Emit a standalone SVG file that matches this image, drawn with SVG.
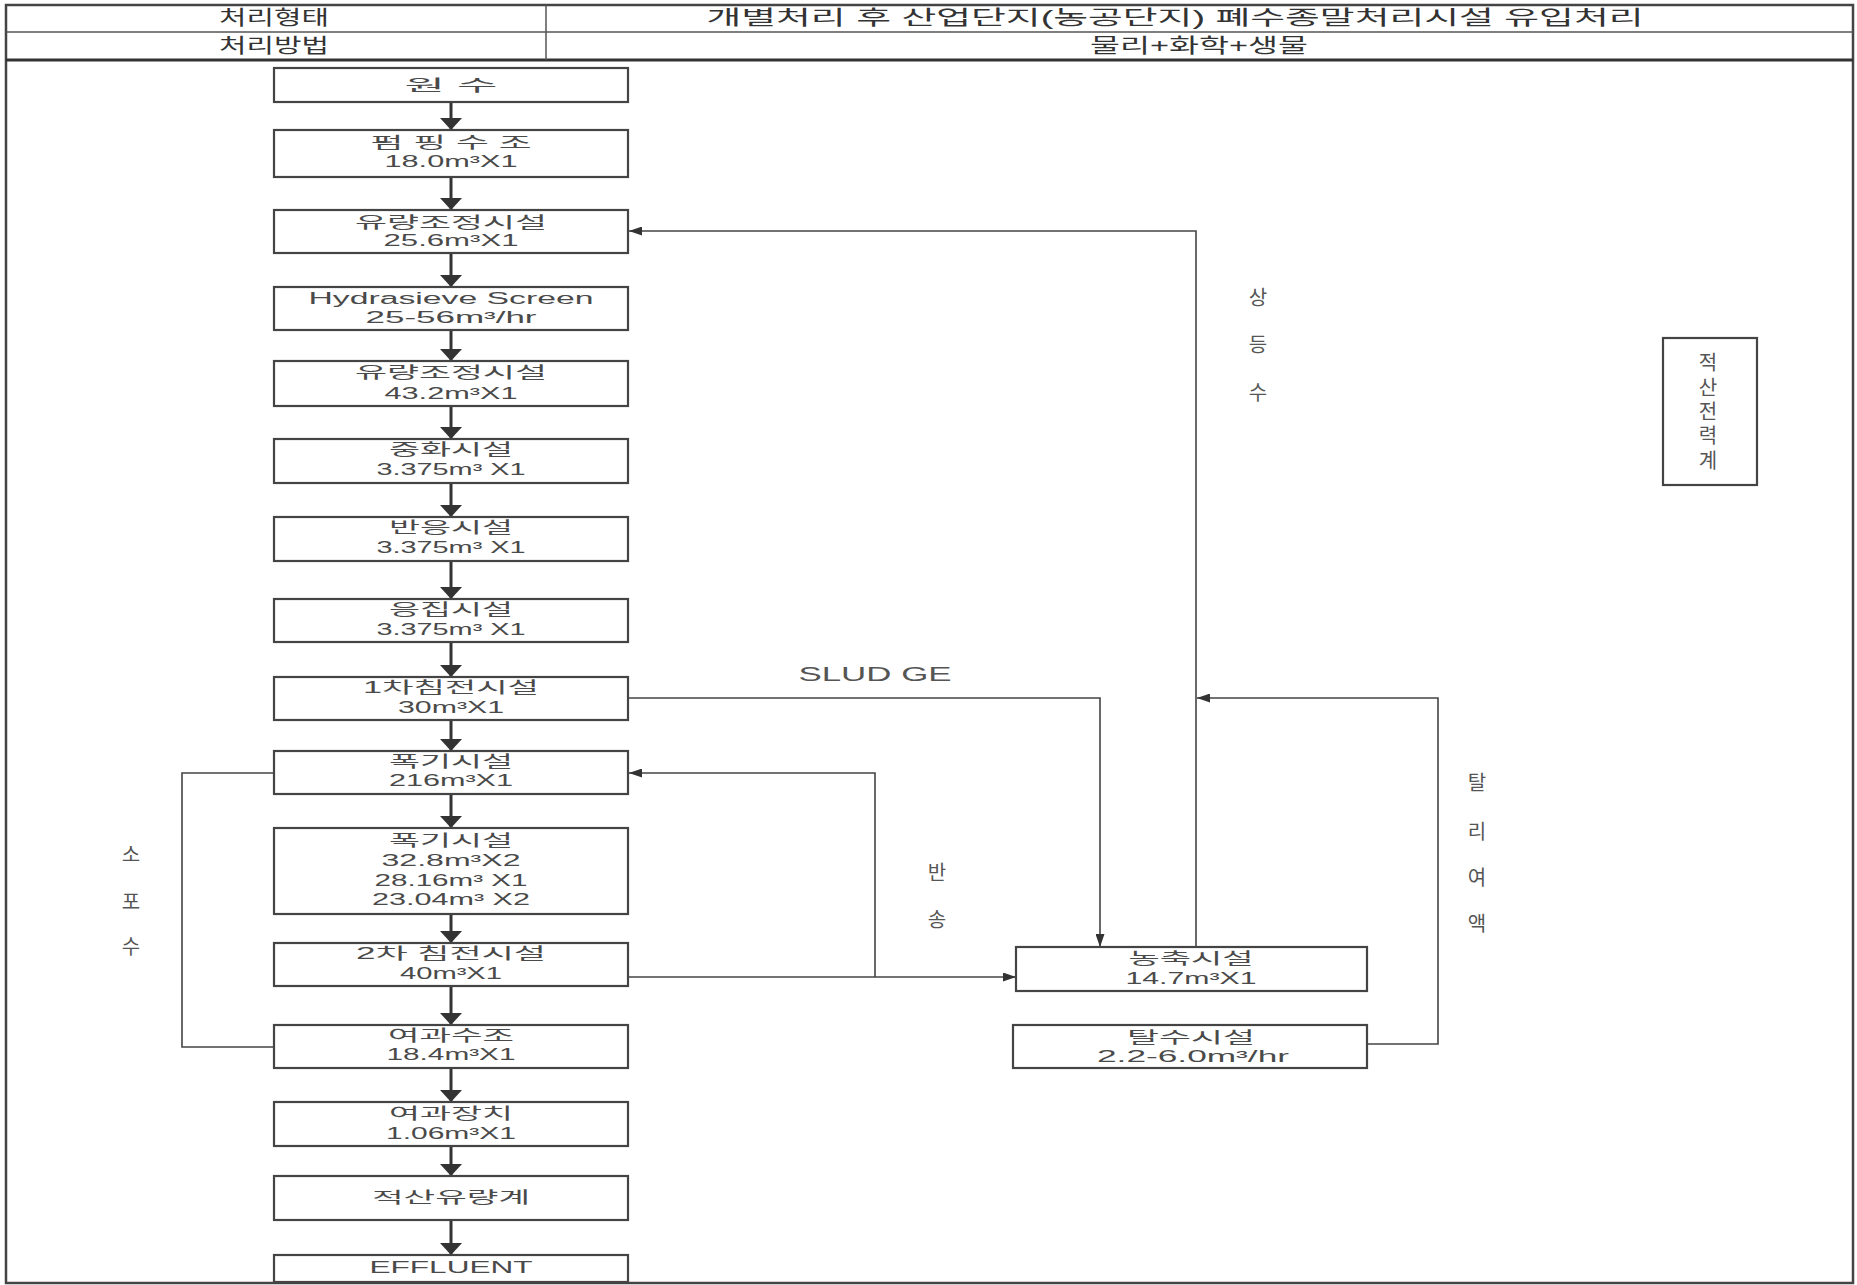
<svg xmlns="http://www.w3.org/2000/svg" width="1857" height="1285" viewBox="0 0 1857 1285">
<defs>
<style>
.t{font-family:"Liberation Sans","Noto Sans CJK KR",sans-serif;font-size:16px;fill:#4a4a4a;text-anchor:middle}
.h{font-size:20px;fill:#333}
.lb{font-size:20px;fill:#555}
.box{fill:#fff;stroke:#444;stroke-width:2.2}
.main{stroke:#333;stroke-width:3;fill:none}
.con{stroke:#444;stroke-width:1.6;fill:none}
.frame{fill:none;stroke:#444;stroke-width:2.5}
</style>
<marker id="big" markerUnits="userSpaceOnUse" markerWidth="12" markerHeight="22" refX="12" refY="11" orient="auto"><path d="M0,0 L12,11 L0,22 z" fill="#333"/></marker>
<marker id="sm" markerUnits="userSpaceOnUse" markerWidth="13" markerHeight="9" refX="13" refY="4.5" orient="auto"><path d="M0,0 L13,4.5 L0,9 z" fill="#333"/></marker>
</defs>
<rect width="1857" height="1285" fill="#fff"/>
<g id="header">
<rect class="frame" x="6" y="5" width="1847" height="1278"/>
<line x1="6" y1="32" x2="1853" y2="32" stroke="#555" stroke-width="1.5"/>
<line x1="6" y1="60" x2="1853" y2="60" stroke="#333" stroke-width="3"/>
<line x1="546" y1="5" x2="546" y2="60" stroke="#555" stroke-width="1.5"/>
<text class="t h" x="274" y="25" textLength="110" lengthAdjust="spacingAndGlyphs">처리형태</text>
<text class="t h" x="274" y="53" textLength="110" lengthAdjust="spacingAndGlyphs">처리방법</text>
<text class="t h" x="1175" y="25" textLength="937" lengthAdjust="spacingAndGlyphs">개별처리 후  산업단지(농공단지) 폐수종말처리시설 유입처리</text>
<text class="t h" x="1199" y="53" textLength="218" lengthAdjust="spacingAndGlyphs">물리+화학+생물</text>
</g>
<g id="connectors">
<line class="main" x1="451" y1="102" x2="451" y2="130" marker-end="url(#big)"/>
<line class="main" x1="451" y1="177" x2="451" y2="210" marker-end="url(#big)"/>
<line class="main" x1="451" y1="253" x2="451" y2="287" marker-end="url(#big)"/>
<line class="main" x1="451" y1="330" x2="451" y2="361" marker-end="url(#big)"/>
<line class="main" x1="451" y1="406" x2="451" y2="439" marker-end="url(#big)"/>
<line class="main" x1="451" y1="483" x2="451" y2="517" marker-end="url(#big)"/>
<line class="main" x1="451" y1="561" x2="451" y2="599" marker-end="url(#big)"/>
<line class="main" x1="451" y1="642" x2="451" y2="677" marker-end="url(#big)"/>
<line class="main" x1="451" y1="720" x2="451" y2="751" marker-end="url(#big)"/>
<line class="main" x1="451" y1="794" x2="451" y2="828" marker-end="url(#big)"/>
<line class="main" x1="451" y1="914" x2="451" y2="943" marker-end="url(#big)"/>
<line class="main" x1="451" y1="986" x2="451" y2="1025" marker-end="url(#big)"/>
<line class="main" x1="451" y1="1068" x2="451" y2="1102" marker-end="url(#big)"/>
<line class="main" x1="451" y1="1146" x2="451" y2="1176" marker-end="url(#big)"/>
<line class="main" x1="451" y1="1220" x2="451" y2="1255" marker-end="url(#big)"/>
<polyline class="con" points="1196,947 1196,231 629,231" marker-end="url(#sm)"/>
<polyline class="con" points="628,698 1100,698 1100,947" marker-end="url(#sm)"/>
<polyline class="con" points="628,977 1016,977" marker-end="url(#sm)"/>
<polyline class="con" points="875,977 875,773 629,773" marker-end="url(#sm)"/>
<polyline class="con" points="1367,1044 1438,1044 1438,698 1197,698" marker-end="url(#sm)"/>
<polyline class="con" points="274,1047 182,1047 182,773 274,773"/>
<text class="t lb" x="875" y="681" textLength="153" lengthAdjust="spacingAndGlyphs">SLUD GE</text>
<text class="t lb" x="1258" y="305">상</text>
<text class="t lb" x="1258" y="352">등</text>
<text class="t lb" x="1258" y="400">수</text>
<text class="t lb" x="937" y="880">반</text>
<text class="t lb" x="937" y="927">송</text>
<text class="t lb" x="1477" y="790">탈</text>
<text class="t lb" x="1477" y="839">리</text>
<text class="t lb" x="1477" y="885">여</text>
<text class="t lb" x="1477" y="931">액</text>
<text class="t lb" x="131" y="862">소</text>
<text class="t lb" x="131" y="909">포</text>
<text class="t lb" x="131" y="954">수</text>
</g>
<g id="n1"><rect class="box" x="274" y="68" width="354" height="34"/><text class="t" x="451" y="91" textLength="93" lengthAdjust="spacingAndGlyphs">원   수</text></g>
<g id="n2"><rect class="box" x="274" y="130" width="354" height="47"/><text class="t" x="451" y="148" textLength="161" lengthAdjust="spacingAndGlyphs">펌 핑 수 조</text><text class="t" x="451" y="167" textLength="133" lengthAdjust="spacingAndGlyphs">18.0m³X1</text></g>
<g id="n3"><rect class="box" x="274" y="210" width="354" height="43"/><text class="t" x="451" y="228" textLength="192" lengthAdjust="spacingAndGlyphs">유량조정시설</text><text class="t" x="451" y="246" textLength="135" lengthAdjust="spacingAndGlyphs">25.6m³X1</text></g>
<g id="n4"><rect class="box" x="274" y="287" width="354" height="43"/><text class="t" x="451" y="304" textLength="285" lengthAdjust="spacingAndGlyphs">Hydrasieve Screen</text><text class="t" x="451" y="323" textLength="171" lengthAdjust="spacingAndGlyphs">25-56m³/hr</text></g>
<g id="n5"><rect class="box" x="274" y="361" width="354" height="45"/><text class="t" x="451" y="378" textLength="192" lengthAdjust="spacingAndGlyphs">유량조정시설</text><text class="t" x="451" y="399" textLength="133" lengthAdjust="spacingAndGlyphs">43.2m³X1</text></g>
<g id="n6"><rect class="box" x="274" y="439" width="354" height="44"/><text class="t" x="451" y="455" textLength="124" lengthAdjust="spacingAndGlyphs">중화시설</text><text class="t" x="451" y="475" textLength="149" lengthAdjust="spacingAndGlyphs">3.375m³ X1</text></g>
<g id="n7"><rect class="box" x="274" y="517" width="354" height="44"/><text class="t" x="451" y="533" textLength="124" lengthAdjust="spacingAndGlyphs">반응시설</text><text class="t" x="451" y="553" textLength="149" lengthAdjust="spacingAndGlyphs">3.375m³ X1</text></g>
<g id="n8"><rect class="box" x="274" y="599" width="354" height="43"/><text class="t" x="451" y="615" textLength="124" lengthAdjust="spacingAndGlyphs">응집시설</text><text class="t" x="451" y="635" textLength="149" lengthAdjust="spacingAndGlyphs">3.375m³ X1</text></g>
<g id="n9"><rect class="box" x="274" y="677" width="354" height="43"/><text class="t" x="451" y="693" textLength="176" lengthAdjust="spacingAndGlyphs">1차침전시설</text><text class="t" x="451" y="713" textLength="106" lengthAdjust="spacingAndGlyphs">30m³X1</text></g>
<g id="n10"><rect class="box" x="274" y="751" width="354" height="43"/><text class="t" x="451" y="767" textLength="124" lengthAdjust="spacingAndGlyphs">폭기시설</text><text class="t" x="451" y="786" textLength="124" lengthAdjust="spacingAndGlyphs">216m³X1</text></g>
<g id="n11"><rect class="box" x="274" y="828" width="354" height="86"/><text class="t" x="451" y="846" textLength="124" lengthAdjust="spacingAndGlyphs">폭기시설</text><text class="t" x="451" y="866" textLength="139" lengthAdjust="spacingAndGlyphs">32.8m³X2</text><text class="t" x="451" y="886" textLength="153" lengthAdjust="spacingAndGlyphs">28.16m³ X1</text><text class="t" x="451" y="905" textLength="158" lengthAdjust="spacingAndGlyphs">23.04m³ X2</text></g>
<g id="n12"><rect class="box" x="274" y="943" width="354" height="43"/><text class="t" x="451" y="959" textLength="190" lengthAdjust="spacingAndGlyphs">2차 침전시설</text><text class="t" x="451" y="979" textLength="102" lengthAdjust="spacingAndGlyphs">40m³X1</text></g>
<g id="n13"><rect class="box" x="274" y="1025" width="354" height="43"/><text class="t" x="451" y="1041" textLength="126" lengthAdjust="spacingAndGlyphs">여과수조</text><text class="t" x="451" y="1060" textLength="129" lengthAdjust="spacingAndGlyphs">18.4m³X1</text></g>
<g id="n14"><rect class="box" x="274" y="1102" width="354" height="44"/><text class="t" x="451" y="1119" textLength="124" lengthAdjust="spacingAndGlyphs">여과장치</text><text class="t" x="451" y="1139" textLength="130" lengthAdjust="spacingAndGlyphs">1.06m³X1</text></g>
<g id="n15"><rect class="box" x="274" y="1176" width="354" height="44"/><text class="t" x="451" y="1203" textLength="158" lengthAdjust="spacingAndGlyphs">적산유량계</text></g>
<g id="n16"><rect class="box" x="274" y="1255" width="354" height="27"/><text class="t" x="451" y="1273" textLength="163" lengthAdjust="spacingAndGlyphs">EFFLUENT</text></g>
<g id="n17"><rect class="box" x="1016" y="947" width="351" height="44"/><text class="t" x="1191" y="964" textLength="125" lengthAdjust="spacingAndGlyphs">농축시설</text><text class="t" x="1191" y="984" textLength="131" lengthAdjust="spacingAndGlyphs">14.7m³X1</text></g>
<g id="n18"><rect class="box" x="1013" y="1025" width="354" height="43"/><text class="t" x="1191" y="1043" textLength="128" lengthAdjust="spacingAndGlyphs">탈수시설</text><text class="t" x="1193" y="1062" textLength="192" lengthAdjust="spacingAndGlyphs">2.2-6.0m³/hr</text></g>
<g id="n19"><rect class="box" x="1663" y="338" width="94" height="147"/>
<text class="t lb" x="1708" y="370">적</text><text class="t lb" x="1708" y="395">산</text><text class="t lb" x="1708" y="419">전</text><text class="t lb" x="1708" y="443">력</text><text class="t lb" x="1708" y="468">계</text></g>
</svg>
